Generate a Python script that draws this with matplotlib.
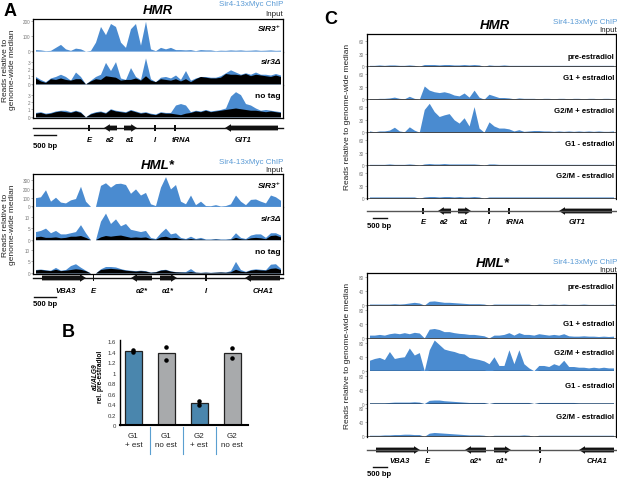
import numpy as np
import matplotlib
matplotlib.use("Agg")
import matplotlib.pyplot as plt
from matplotlib.patches import Polygon, Rectangle

plt.rcParams['font.family'] = ['Liberation Sans', 'DejaVu Sans']

# ---------------- data ----------------
# coverage profiles, 50 bins across each locus window
hmr_sir3_chip = [10, 8, 3, 5, 25, 45, 15, 5, 20, 15, 0, 5, 60, 165, 110, 185, 165, 60, 25, 150,
                 185, 40, 200, 15, 3, 25, 15, 25, 10, 10, 8, 10, 3, 10, 8, 8, 3, 6, 5, 8,
                 6, 8, 5, 6, 8, 5, 6, 8, 5, 6]
hmr_del_chip = [1.0, 0.6, 0.3, 0.8, 1.0, 1.3, 1.0, 0.5, 1.6, 1.0, 0, 0.5, 1.0, 1.3, 2.9, 1.8, 3.0, 0.8, 0.6, 2.2,
                1.0, 0.6, 3.5, 0.7, 0.3, 0.9, 1.0, 0.8, 1.2, 0.6, 1.8, 0.5, 0.8, 1.0, 1.0, 0.9, 0.9, 1.1, 1.5, 1.9,
                1.6, 1.3, 1.5, 1.3, 1.6, 1.3, 1.3, 1.2, 1.4, 1.2]
hmr_del_input = [0.8, 0.4, 0.2, 0.7, 0.6, 0.8, 0.6, 0.5, 0.7, 0.7, 0, 0.4, 0.7, 0.6, 1.1, 1.0, 0.9, 0.5, 0.6, 0.6,
                 0.8, 0.5, 1.1, 0.5, 0.3, 0.7, 0.6, 0.5, 0.7, 0.4, 0.7, 0.3, 0.7, 1.0, 0.9, 0.8, 0.8, 0.9, 1.4, 1.3,
                 1.3, 1.2, 1.4, 1.1, 1.3, 1.2, 1.1, 1.0, 1.2, 1.0]
hmr_notag_chip = [0.6, 0.7, 0.5, 0.6, 0.8, 0.9, 0.9, 0.7, 0.9, 0.7, 0, 0.5, 0.7, 0.8, 0.6, 1.1, 0.9, 0.8, 0.7, 1.0,
                  0.8, 0.6, 0.7, 0.5, 0.4, 0.7, 0.6, 0.6, 1.6, 1.8, 1.6, 0.7, 0.9, 0.8, 1.0, 0.8, 0.9, 1.0, 1.2, 2.8,
                  3.4, 3.0, 1.8, 1.6, 1.2, 0.9, 1.0, 0.9, 0.8, 0.7]
hmr_notag_input = [0.5, 0.6, 0.4, 0.5, 0.7, 0.8, 0.7, 0.6, 0.8, 0.6, 0, 0.4, 0.6, 0.7, 0.5, 1.0, 0.8, 0.7, 0.6, 0.9,
                   0.7, 0.5, 0.6, 0.4, 0.3, 0.6, 0.5, 0.5, 0.4, 0.3, 0.5, 0.6, 0.8, 0.7, 0.9, 0.7, 0.8, 0.9, 1.0, 1.1,
                   1.2, 1.1, 1.0, 0.9, 0.9, 0.8, 0.7, 0.8, 0.7, 0.6]

hml_sir3_chip = [100, 110, 190, 60, 105, 50, 40, 75, 90, 230, 60, 0, 0, 240, 270, 220, 260, 265, 250, 150,
                 200, 130, 160, 30, 10, 220, 340, 200, 250, 60, 30, 130, 20, 60, 10, 8, 20, 5, 10, 30,
                 130, 60, 20, 80, 85, 60, 40, 130, 110, 70]
hml_del_chip = [3.5, 4.0, 5.0, 3.0, 4.0, 2.5, 2.5, 3.0, 3.5, 6.5, 3.0, 0, 0, 8.0, 11.5, 7.0, 9.0, 6.0, 7.0, 4.5,
                4.0, 3.5, 4.0, 1.0, 0.5, 3.0, 5.0, 2.5, 3.0, 1.0, 0.5, 1.5, 0.5, 1.0, 0.3, 0.3, 0.5, 0.3, 0.3, 0.5,
                3.0, 1.0, 0.5, 2.0, 2.5, 2.5, 1.0, 3.0, 3.0, 2.0]
hml_del_input = [1.2, 1.5, 1.0, 1.0, 1.2, 0.8, 1.0, 1.5, 1.5, 1.8, 1.0, 0, 0, 1.2, 1.8, 1.5, 1.8, 2.0, 1.5, 1.0,
                 1.2, 1.0, 1.2, 0.4, 0.2, 1.2, 1.5, 0.8, 1.0, 0.4, 0.2, 0.5, 0.2, 0.3, 0.1, 0.1, 0.2, 0.1, 0.1, 0.2,
                 1.0, 0.4, 0.2, 0.8, 1.0, 0.8, 0.4, 1.8, 2.0, 1.2]
hml_notag_chip = [1.5, 1.7, 1.4, 1.2, 2.4, 1.2, 1.5, 3.2, 4.0, 2.5, 1.2, 0, 0, 1.8, 2.8, 2.8, 2.6, 1.9, 1.4, 1.2,
                  1.0, 1.2, 1.0, 0.4, 0.6, 1.4, 1.6, 0.9, 0.6, 0.5, 0.6, 1.9, 0.4, 0.3, 0.4, 0.3, 0.4, 0.5, 0.4, 1.0,
                  5.0, 1.5, 0.7, 1.5, 1.8, 1.6, 1.4, 3.8, 4.0, 2.0]
hml_notag_input = [1.3, 1.5, 1.2, 1.0, 1.6, 1.0, 1.2, 1.5, 1.8, 1.6, 1.0, 0, 0, 1.5, 1.8, 2.0, 1.8, 1.6, 1.2, 1.0,
                   0.8, 1.0, 0.8, 0.3, 0.5, 1.2, 1.4, 0.8, 0.5, 0.4, 0.3, 0.6, 0.3, 0.2, 0.3, 0.2, 0.3, 0.4, 0.3, 0.5,
                   1.6, 0.8, 0.5, 1.2, 1.5, 1.3, 1.2, 2.0, 2.2, 1.5]

# panel C, estradiol time course
c_hmr_pre = [2, 2, 3, 2, 3, 3, 2, 2, 3, 2, 0, 4, 4, 4, 3, 4, 4, 3, 3, 4,
             3, 4, 3, 0, 3, 2, 2, 3, 2, 2, 2, 2, 2, 2, 2, 2, 2, 2, 2, 2,
             2, 2, 2, 2, 2, 2, 2, 2, 2, 2]
c_hmr_g1_plus = [1, 1, 2, 2, 3, 5, 2, 1, 7, 2, 0, 32, 22, 18, 16, 18, 15, 10, 8, 15,
                 5, 22, 5, 0, 12, 8, 4, 4, 3, 1, 3, 2, 2, 2, 1, 2, 2, 1, 2, 2,
                 1, 2, 2, 1, 2, 2, 1, 2, 2, 1]
c_hmr_g2_plus = [3, 1, 3, 3, 5, 12, 3, 1, 13, 5, 0, 55, 70, 50, 38, 42, 45, 30, 22, 35,
                 15, 62, 10, 0, 25, 15, 10, 10, 8, 3, 6, 2, 3, 4, 4, 3, 3, 2, 3, 2,
                 3, 2, 3, 2, 3, 2, 3, 2, 2, 3]
c_hmr_g1_minus = [2, 2, 2, 2, 3, 2, 2, 2, 3, 2, 0, 3, 4, 3, 3, 4, 3, 3, 3, 3,
                  3, 3, 2, 0, 3, 3, 2, 2, 2, 2, 2, 2, 2, 2, 2, 2, 2, 2, 2, 2,
                  2, 2, 2, 2, 2, 2, 2, 2, 2, 2]
c_hmr_g2_minus = [3, 3, 3, 3, 3, 3, 3, 3, 3, 3, 0, 3, 4, 4, 3, 4, 4, 3, 4, 3,
                  3, 4, 3, 0, 3, 3, 3, 3, 3, 3, 3, 3, 3, 3, 3, 3, 3, 3, 3, 3,
                  3, 3, 3, 3, 3, 3, 3, 3, 3, 3]
c_hmr_input = [1, 1, 1, 1, 1, 1, 1, 1, 1, 1, 0, 1, 1, 1, 1, 1, 1, 1, 1, 1,
               1, 1, 1, 0, 1, 1, 1, 1, 1, 1, 1, 1, 1, 1, 1, 1, 1, 1, 1, 1,
               1, 1, 1, 1, 1, 1, 1, 1, 1, 1]

c_hml_pre = [3, 3, 3, 3, 3, 4, 3, 4, 6, 8, 6, 0, 11, 12, 10, 8, 8, 7, 6, 5,
             4, 4, 4, 3, 0, 3, 3, 3, 3, 3, 3, 3, 3, 0, 3, 2, 2, 3, 2, 3,
             2, 2, 2, 3, 2, 2, 2, 2, 2, 3]
c_hml_g1_plus = [8, 8, 10, 8, 12, 14, 12, 15, 12, 16, 14, 0, 25, 27, 24, 18, 18, 15, 13, 12,
                 10, 10, 8, 6, 0, 8, 8, 10, 15, 8, 15, 10, 10, 8, 12, 10, 8, 10, 8, 12,
                 6, 5, 5, 6, 5, 5, 4, 5, 4, 5]
c_hml_g2_plus = [30, 35, 38, 32, 55, 35, 38, 40, 65, 45, 52, 0, 60, 88, 75, 62, 58, 55, 50, 48,
                 38, 35, 32, 28, 20, 40, 15, 15, 60, 20, 60, 20, 8, 0, 15, 15, 12, 20, 15, 30,
                 12, 12, 10, 10, 8, 10, 8, 10, 8, 8]
c_hml_g1_minus = [2, 2, 2, 2, 3, 4, 4, 4, 4, 5, 4, 0, 9, 10, 10, 8, 7, 6, 5, 4,
                  3, 3, 3, 3, 0, 3, 3, 3, 3, 3, 3, 3, 3, 0, 3, 3, 3, 3, 3, 3,
                  3, 3, 2, 2, 2, 2, 2, 2, 2, 2]
c_hml_g2_minus = [3, 3, 3, 4, 4, 5, 5, 6, 6, 5, 5, 0, 9, 11, 10, 9, 8, 7, 6, 5,
                  4, 4, 4, 3, 0, 3, 3, 3, 3, 3, 3, 4, 3, 0, 3, 3, 3, 3, 3, 3,
                  3, 3, 3, 3, 3, 3, 3, 3, 3, 3]
c_hml_input = [1, 1, 1, 1, 1, 1, 1, 1, 1, 1, 1, 0, 1, 1, 1, 1, 1, 1, 1, 1,
               1, 1, 1, 1, 0, 1, 1, 1, 1, 1, 1, 1, 1, 0, 1, 1, 1, 1, 1, 1,
               1, 1, 1, 1, 1, 1, 1, 1, 1, 1]

# gene features (bin units), start -> end gives direction
hmr_names = ["E", "a2", "a1", "I", "tRNA", "GIT1"]
hmr_start = [11.0, 16.8, 18.2, 24.2, 28.2, 49.0]
hmr_end = [11.4, 14.2, 20.8, 24.6, 28.6, 38.4]
hmr_kind = ["site", "orf", "orf", "site", "site", "orf"]
hmr_label_x = [11.2, 15.4, 19.5, 24.4, 29.6, 42.0]

hml_names = ["VBA3", "E", "\u03b12*", "\u03b11*", "I", "CHA1"]
hml_start = [1.8, 11.9, 23.8, 25.4, 34.4, 49.4]
hml_end = [10.6, 12.1, 19.6, 28.8, 34.8, 42.4]
hml_kind = ["orf", "site", "orf", "orf", "site", "orf"]
hml_label_x = [6.5, 12.0, 21.8, 27.0, 34.6, 46.0]

scale_bins_a = 4.4
scale_bins_c = 2.8

# panel B
b_groups = ["G1\n+ est", "G1\nno est", "G2\n+ est", "G2\nno est"]
b_means = [1.41, 1.365, 0.42, 1.365]
b_rep1 = [1.43, 1.49, 0.45, 1.46]
b_rep2 = [1.39, 1.24, 0.39, 1.28]
b_colors = ["#4a86ad", "#a8aaac", "#4a86ad", "#a8aaac"]

CHIP = "#4a8bd0"
LEG_BLUE = "#5b9bd5"

W, H = 617, 481
fig = plt.figure(figsize=(W / 100, H / 100), dpi=100)
bins = np.arange(50) + 0.5


def add_ax(left, top, width, height):
    return fig.add_axes([left / W, 1 - (top + height) / H, width / W, height / H])


def ftext(x, y, s, **kw):
    fig.text(x / W, 1 - y / H, s, **kw)


def fline(xs, ys, **kw):
    fig.add_artist(plt.Line2D([x / W for x in xs], [1 - y / H for y in ys], **kw))


def tracks(left, top, width, height, chips, inputs, ylim, ticks, names, name_y, styles, baseline):
    for k in range(len(chips)):
        ax = add_ax(left, top + k * height, width, height)
        ax.fill_between(bins, 0, chips[k], color=CHIP, lw=0)
        if inputs[k] is not None:
            ax.fill_between(bins, 0, inputs[k], color="black", lw=0)
        if baseline:
            ax.axhline(0, color="#444", lw=0.6)
        ax.set_xlim(0, 50)
        ax.set_ylim(*ylim[k])
        ax.set_xticks([])
        ax.set_yticks(ticks[k])
        ax.tick_params(axis="y", labelsize=3.3, length=1.5, width=0.4, pad=0.6,
                       labelcolor="#777", color="#777")
        for side in ["top", "bottom"]:
            ax.spines[side].set_visible(False)
        for side in ["left", "right"]:
            ax.spines[side].set_linewidth(0.9)
        if k == 0:
            ax.spines["top"].set_visible(True)
            ax.spines["top"].set_linewidth(0.9)
        if k == len(chips) - 1 and not baseline:
            ax.spines["bottom"].set_visible(True)
            ax.spines["bottom"].set_linewidth(0.9)
        ax.text(49.6, ylim[k][0] + name_y[k] * (ylim[k][1] - ylim[k][0]), names[k],
                ha="right", va="center", fontsize=styles[k][0], fontweight="bold",
                fontstyle=styles[k][1])


def gene_map(left, line_y, width, names, starts, ends, kinds, label_x, label_dy, line_color):
    ax = add_ax(left, line_y - 10, width, 20)
    ax.set_xlim(0, 50)
    ax.set_ylim(10, -10)
    ax.axis("off")
    ax.plot([0, 50], [0, 0], color=line_color, lw=1.0, clip_on=False)
    for n, s, e, kd, lx in zip(names, starts, ends, kinds, label_x):
        if kd == "orf":
            d = 1 if e > s else -1
            head = min(1.2, abs(e - s) * 0.45)
            b = e - d * head
            pts = [(s, -2.4), (b, -2.4), (b, -3.8), (e, 0), (b, 3.8), (b, 2.4), (s, 2.4)]
            ax.add_patch(Polygon(pts, closed=True, facecolor="#111", lw=0))
        else:
            ax.add_patch(Rectangle((s, -3), e - s, 6, facecolor="#111", lw=0))
        ax.text(lx, label_dy, n, ha="center", va="center", fontsize=5.5,
                fontweight="bold", fontstyle="italic", clip_on=False)


def header(cx, cy, title, right, sy, iy):
    ftext(cx, cy, title, ha="center", va="center", fontsize=9.5, fontweight="bold", fontstyle="italic")
    ftext(right, sy, "Sir4-13xMyc ChIP", ha="right", va="center", fontsize=5.8, color=LEG_BLUE)
    ftext(right, iy, "Input", ha="right", va="center", fontsize=5.8, color="#222")


# ---------------- panel A ----------------
ftext(10, 12, "A", ha="center", va="center", fontsize=13, fontweight="bold")
header(158, 11, "HMR", 283, 5, 15)
a_styles = [(6, "italic"), (6, "italic"), (6, "normal")]
tracks(33, 20, 250, 33,
       [hmr_sir3_chip, hmr_del_chip, hmr_notag_chip],
       [None, hmr_del_input, hmr_notag_input],
       [(-6, 215), (-0.15, 4.3), (-0.15, 4.3)],
       [[0, 100, 200], [0, 1, 2, 3], [0, 1, 2, 3]],
       ["SIR3\u207a", "sir3\u0394", "no tag"], [0.7, 0.7, 0.67], a_styles, False)
gene_map(33, 129, 250, hmr_names, hmr_start, hmr_end, hmr_kind, hmr_label_x, 12, "#111")
fline([34, 34 + scale_bins_a * 5], [136, 136], color="#111", lw=1.0)
ftext(45, 146, "500 bp", ha="center", va="center", fontsize=5.5, fontweight="bold")
ftext(9, 70, "Reads relative to\ngenome-wide median", ha="center", va="center",
      rotation=90, fontsize=6, color="#222", linespacing=1.1)

header(158, 166, "HML*", 283, 162, 171)
tracks(33, 175, 250, 33.3,
       [hml_sir3_chip, hml_del_chip, hml_notag_chip],
       [None, hml_del_input, hml_notag_input],
       [(-10, 370), (-0.4, 14), (-0.4, 14)],
       [[0, 100, 200, 300], [0, 5, 10], [0, 5, 10]],
       ["SIR3\u207a", "sir3\u0394", "no tag"], [0.64, 0.67, 0.68], a_styles, False)
gene_map(33, 279, 250, hml_names, hml_start, hml_end, hml_kind, hml_label_x, 13, "#111")
fline([34, 34 + scale_bins_a * 5], [298, 298], color="#111", lw=1.0)
ftext(45, 305, "500 bp", ha="center", va="center", fontsize=5.5, fontweight="bold")
ftext(9, 225, "Reads relative to\ngenome-wide median", ha="center", va="center",
      rotation=90, fontsize=6, color="#222", linespacing=1.1)

# ---------------- panel B ----------------
ftext(68, 333, "B", ha="center", va="center", fontsize=13, fontweight="bold")
axb = add_ax(120, 341, 128, 85)
pos = np.arange(len(b_groups))
axb.bar(pos, b_means, width=0.52, color=b_colors, edgecolor="#222", lw=0.9, zorder=2)
axb.scatter(pos, b_rep1, s=5, color="black", zorder=3)
axb.scatter(pos, b_rep2, s=5, color="black", zorder=3)
axb.set_xlim(-0.41, 3.48)
axb.set_ylim(0, 1.62)
yt = [0, 0.2, 0.4, 0.6, 0.8, 1.0, 1.2, 1.4, 1.6]
axb.set_yticks(yt, ["0", "0.2", "0.4", "0.6", "0.8", "1", "1.2", "1.4", "1.6"])
axb.tick_params(axis="y", labelsize=4.3, length=0, pad=3, labelcolor="#333")
axb.set_xticks(pos, b_groups)
axb.tick_params(axis="x", labelsize=5.8, length=0, pad=5, labelcolor="#222")
for lab in axb.get_xticklabels():
    lab.set_linespacing(1.5)
for side in ["top", "right"]:
    axb.spines[side].set_visible(False)
axb.spines["left"].set_linewidth(1.0)
axb.spines["bottom"].set_linewidth(1.5)
for k in range(3):
    axb.plot([k + 0.5, k + 0.5], [-0.04, -0.55], color="#5a9fd0", lw=0.8, clip_on=False)
ftext(95, 377, "a1/ALG9", ha="center", va="center", rotation=90, fontsize=4.8,
      fontweight="bold", fontstyle="italic")
ftext(101, 377, "rel. pre-estradiol", ha="center", va="center", rotation=90, fontsize=4.8,
      fontweight="bold")

# ---------------- panel C ----------------
ftext(331, 19, "C", ha="center", va="center", fontsize=13, fontweight="bold")
c_names = ["pre-estradiol", "G1 + estradiol", "G2/M + estradiol", "G1 - estradiol", "G2/M - estradiol"]
c_styles = [(5.6, "normal")] * 5

header(495, 26, "HMR", 617, 22, 31)
tracks(367, 35, 249, 33,
       [c_hmr_pre, c_hmr_g1_plus, c_hmr_g2_plus, c_hmr_g1_minus, c_hmr_g2_minus],
       [c_hmr_input] * 5,
       [(-2, 78)] * 5, [[0, 30, 60]] * 5,
       c_names, [0.33, 0.67, 0.67, 0.67, 0.7], c_styles, True)
gene_map(367, 212, 250, hmr_names, hmr_start, hmr_end, hmr_kind, hmr_label_x, 11, "#555")
fline([373, 373 + scale_bins_c * 5], [219, 219], color="#111", lw=1.0)
ftext(379, 227, "500 bp", ha="center", va="center", fontsize=5.5, fontweight="bold")
ftext(348, 117, "Reads relative to genome-wide median", ha="center", va="center",
      rotation=90, fontsize=6, color="#222")

header(493, 264, "HML*", 617, 262, 270)
tracks(367, 274, 249, 32.8,
       [c_hml_pre, c_hml_g1_plus, c_hml_g2_plus, c_hml_g1_minus, c_hml_g2_minus],
       [c_hml_input] * 5,
       [(-2, 92)] * 5, [[0, 40, 80]] * 5,
       c_names, [0.58, 0.45, 0.59, 0.58, 0.64], c_styles, True)
gene_map(367, 451, 250, hml_names, hml_start, hml_end, hml_kind, hml_label_x, 11, "#555")
fline([373, 373 + scale_bins_c * 5], [468, 468], color="#111", lw=1.0)
ftext(379, 475, "500 bp", ha="center", va="center", fontsize=5.5, fontweight="bold")
ftext(348, 356, "Reads relative to genome-wide median", ha="center", va="center",
      rotation=90, fontsize=6, color="#222")

fig.savefig("out.png", dpi=100)
